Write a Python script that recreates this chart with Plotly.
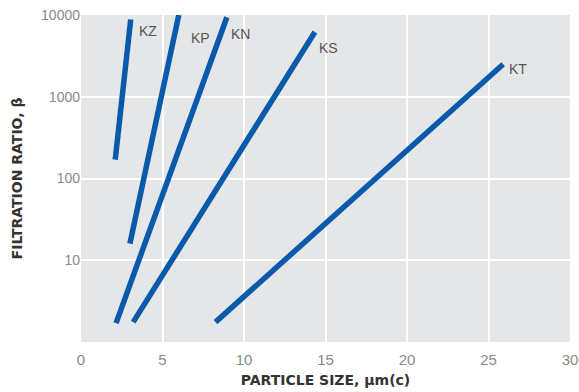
import math
import plotly.graph_objects as go

series_names = ["KZ", "KP", "KN", "KS", "KT"]
x_start = [2.1, 3.0, 2.15, 3.2, 8.25]
x_end = [3.05, 6.0, 8.95, 14.35, 25.9]
y_start = [170, 16, 1.7, 1.75, 1.75]
y_end = [8800, 10000, 9400, 6200, 2500]
label_x = [3.45, 6.6, 9.1, 14.5, 26.15]
label_y = [6300, 5200, 5900, 4000, 2200]

x_ticks = [0, 5, 10, 15, 20, 25, 30]
y_ticks = [10, 100, 1000, 10000]

line_color = "#0a5aab"
font_family = "Liberation Sans, Arial, sans-serif"
title_family = "DejaVu Sans, Liberation Sans, sans-serif"

fig = go.Figure()
for name, xs, xe, ys, ye in zip(series_names, x_start, x_end, y_start, y_end):
    fig.add_trace(go.Scatter(x=[xs, xe], y=[ys, ye], mode="lines", name=name,
                             line=dict(color=line_color, width=5.5), showlegend=False))

for name, lx, ly in zip(series_names, label_x, label_y):
    fig.add_annotation(x=lx, y=math.log10(ly), yref="y", xref="x", text=name, showarrow=False,
                       xanchor="left", yanchor="middle",
                       font=dict(family=font_family, size=14, color="#555555"))

fig.update_layout(
    width=579, height=392,
    margin=dict(l=81, r=9, t=15, b=50),
    paper_bgcolor="white",
    plot_bgcolor="#e5e6e7",
    font=dict(family=font_family),
    xaxis=dict(range=[0, 30], tickvals=x_ticks, showgrid=True, gridcolor="white", gridwidth=2,
               zeroline=False, showline=False, ticks="", automargin=False,
               ticklabeloverflow="allow", ticklabelstandoff=7,
               tickfont=dict(size=15, color="#8a8a8a"),
               title=dict(text="<b>PARTICLE SIZE, µm(c)</b>",
                          font=dict(family=title_family, size=14, color="#333333"), standoff=8)),
    yaxis=dict(type="log", range=[0, 4], tickvals=y_ticks, ticktext=[str(v) for v in y_ticks],
               showgrid=True, gridcolor="white", gridwidth=2, zeroline=False, showline=False, ticks="",
               automargin=False,
               tickfont=dict(size=14, color="#8a8a8a"),
               title=dict(text="<b>FILTRATION RATIO, β</b>",
                          font=dict(family=title_family, size=14, color="#333333"), standoff=15)),
)

fig.write_html("out.html", config={"displayModeBar": False},
               post_script="document.body.style.margin='0';document.body.style.overflow='hidden';")
